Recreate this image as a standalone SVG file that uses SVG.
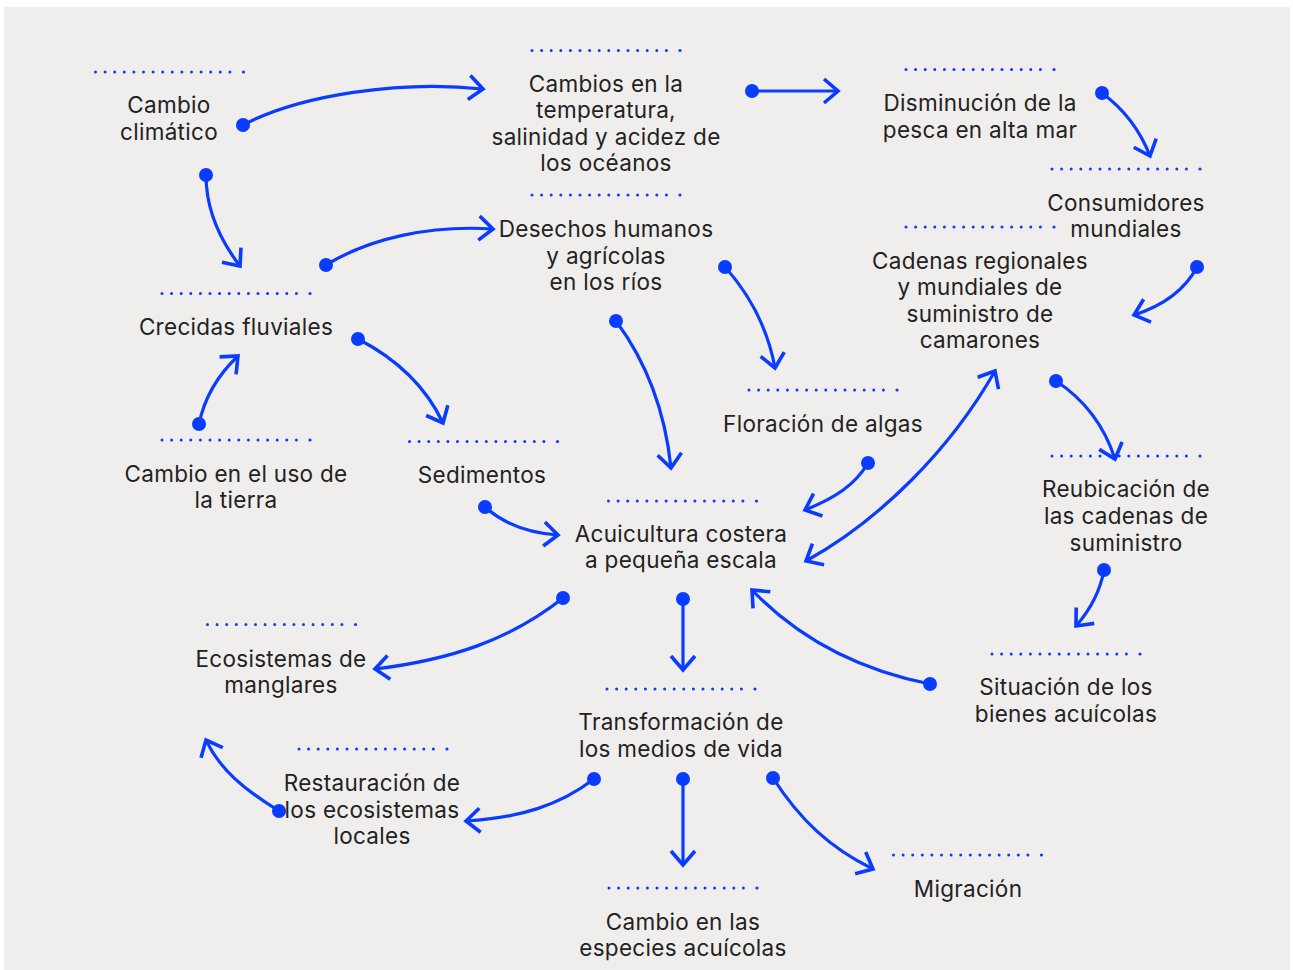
<svg xmlns="http://www.w3.org/2000/svg" xmlns:xlink="http://www.w3.org/1999/xlink" width="1293" height="970" viewBox="0 0 1293 970">
<style>
.t{font-family:Inter,"Liberation Sans",sans-serif;font-size:22.5px;letter-spacing:0.3px;fill:#222;text-anchor:middle}
.c{fill:none;stroke:#0a3cff;stroke-width:3.2;marker-start:url(#dot);marker-end:url(#arr)}
.dl{stroke:#0a3cff;stroke-width:3;stroke-linecap:round;stroke-dasharray:0 9.6;fill:none}
</style>
<defs>
<marker id="arr" markerUnits="userSpaceOnUse" viewBox="-20 -15 25 30" refX="0" refY="0" markerWidth="25" markerHeight="30" orient="auto" overflow="visible">
<path d="M-14,-12 L0,0 L-14,12" fill="none" stroke="#0a3cff" stroke-width="3.6"/>
</marker>
<marker id="arr2" markerUnits="userSpaceOnUse" viewBox="-20 -15 25 30" refX="0" refY="0" markerWidth="25" markerHeight="30" orient="auto-start-reverse" overflow="visible">
<path d="M-14,-12 L0,0 L-14,12" fill="none" stroke="#0a3cff" stroke-width="3.6"/>
</marker>
<marker id="dot" markerUnits="userSpaceOnUse" viewBox="-8 -8 16 16" refX="0" refY="0" markerWidth="16" markerHeight="16" overflow="visible">
<circle r="7" fill="#0a3cff"/>
</marker>
<g id="dots">
<line class="dl" x1="0" y1="0" x2="134.5" y2="0"/>
<circle cx="148" cy="0" r="1.6" fill="#0a3cff"/>
</g>
</defs>
<rect x="0" y="0" width="1293" height="970" fill="#ffffff"/>
<rect x="4" y="7" width="1286" height="963" fill="#efeeec"/>

<g id="connectors">
<path class="c" d="M243,125 C300,95 400,80 483,89"/>
<path class="c" d="M752,91 L838,91"/>
<path class="c" d="M206,175 C206,210 220,240 240,266"/>
<path class="c" d="M326,265 C370,238 430,225 493,229"/>
<path class="c" d="M1102,93 C1125,110 1140,130 1150,156"/>
<path class="c" d="M1197,267 C1185,290 1165,305 1134,315"/>
<path class="c" d="M725,267 C750,295 768,330 775,368"/>
<path class="c" d="M616,321 C645,360 665,410 671,468"/>
<path class="c" d="M199,424 C205,395 220,373 238,356"/>
<path class="c" d="M358,339 C395,358 425,385 443,423"/>
<path class="c" d="M485,507 C505,525 530,533 558,535"/>
<path class="c" d="M868,463 C855,485 835,498 805,510"/>
<path d="M806,561 C880,520 950,450 995,371" fill="none" stroke="#0a3cff" stroke-width="3.2" marker-start="url(#arr2)" marker-end="url(#arr2)"/>
<path class="c" d="M1056,381 C1085,400 1105,428 1115,459"/>
<path class="c" d="M1104,570 C1100,592 1090,610 1076,626"/>
<path class="c" d="M930,684 C860,670 800,640 752,590"/>
<path class="c" d="M563,598 C510,640 450,660 375,669"/>
<path class="c" d="M683,599 L683,670"/>
<path class="c" d="M594,779 C560,805 520,818 466,821"/>
<path class="c" d="M279,811 C245,790 220,770 206,740"/>
<path class="c" d="M683,779 L683,865"/>
<path class="c" d="M773,778 C800,820 830,848 873,869"/>
</g>

<g id="n-cambio-climatico">
<use xlink:href="#dots" x="95.5" y="72"/>
<text class="t" x="169" y="113">Cambio</text>
<text class="t" x="169" y="140">climático</text>
</g>
<g id="n-temperatura">
<use xlink:href="#dots" x="532" y="50.5"/>
<text class="t" x="606" y="91.5">Cambios en la</text>
<text class="t" x="606" y="118">temperatura,</text>
<text class="t" x="606" y="145">salinidad y acidez de</text>
<text class="t" x="606" y="171">los océanos</text>
<use xlink:href="#dots" x="532" y="195"/>
</g>
<g id="n-disminucion">
<use xlink:href="#dots" x="906" y="69.5"/>
<text class="t" x="980" y="111">Disminución de la</text>
<text class="t" x="980" y="137.5">pesca en alta mar</text>
</g>
<g id="n-consumidores">
<use xlink:href="#dots" x="1052" y="169"/>
<text class="t" x="1126" y="210.5">Consumidores</text>
<text class="t" x="1126" y="236.5">mundiales</text>
</g>
<g id="n-cadenas">
<use xlink:href="#dots" x="906" y="227"/>
<text class="t" x="980" y="268.5">Cadenas regionales</text>
<text class="t" x="980" y="295">y mundiales de</text>
<text class="t" x="980" y="321.5">suministro de</text>
<text class="t" x="980" y="348">camarones</text>
</g>
<g id="n-desechos">
<text class="t" x="606" y="237">Desechos humanos</text>
<text class="t" x="606" y="263.5">y agrícolas</text>
<text class="t" x="606" y="290">en los ríos</text>
</g>
<g id="n-crecidas">
<use xlink:href="#dots" x="162" y="293.5"/>
<text class="t" x="236" y="335">Crecidas fluviales</text>
</g>
<g id="n-uso-tierra">
<use xlink:href="#dots" x="162" y="440"/>
<text class="t" x="236" y="481.5">Cambio en el uso de</text>
<text class="t" x="236" y="508">la tierra</text>
</g>
<g id="n-sedimentos">
<use xlink:href="#dots" x="409.5" y="441.5"/>
<text class="t" x="482" y="482.5">Sedimentos</text>
</g>
<g id="n-floracion">
<use xlink:href="#dots" x="749" y="390"/>
<text class="t" x="823" y="431.5">Floración de algas</text>
</g>
<g id="n-acuicultura">
<use xlink:href="#dots" x="608.5" y="501"/>
<text class="t" x="681" y="541.5">Acuicultura costera</text>
<text class="t" x="681" y="568">a pequeña escala</text>
</g>
<g id="n-manglares">
<use xlink:href="#dots" x="207.5" y="624.5"/>
<text class="t" x="281" y="666.5">Ecosistemas de</text>
<text class="t" x="281" y="693">manglares</text>
</g>
<g id="n-restauracion">
<use xlink:href="#dots" x="299" y="749"/>
<text class="t" x="372" y="791">Restauración de</text>
<text class="t" x="372" y="817.5">los ecosistemas</text>
<text class="t" x="372" y="844">locales</text>
</g>
<g id="n-transformacion">
<use xlink:href="#dots" x="607" y="689"/>
<text class="t" x="681" y="730">Transformación de</text>
<text class="t" x="681" y="756.5">los medios de vida</text>
</g>
<g id="n-especies">
<use xlink:href="#dots" x="609" y="888"/>
<text class="t" x="683" y="930">Cambio en las</text>
<text class="t" x="683" y="956">especies acuícolas</text>
</g>
<g id="n-migracion">
<use xlink:href="#dots" x="893.5" y="855"/>
<text class="t" x="968" y="896.5">Migración</text>
</g>
<g id="n-reubicacion">
<use xlink:href="#dots" x="1052" y="456"/>
<text class="t" x="1126" y="496.5">Reubicación de</text>
<text class="t" x="1126" y="523.5">las cadenas de</text>
<text class="t" x="1126" y="550.5">suministro</text>
</g>
<g id="n-situacion">
<use xlink:href="#dots" x="992" y="654"/>
<text class="t" x="1066" y="695">Situación de los</text>
<text class="t" x="1066" y="721.5">bienes acuícolas</text>
</g>
</svg>
